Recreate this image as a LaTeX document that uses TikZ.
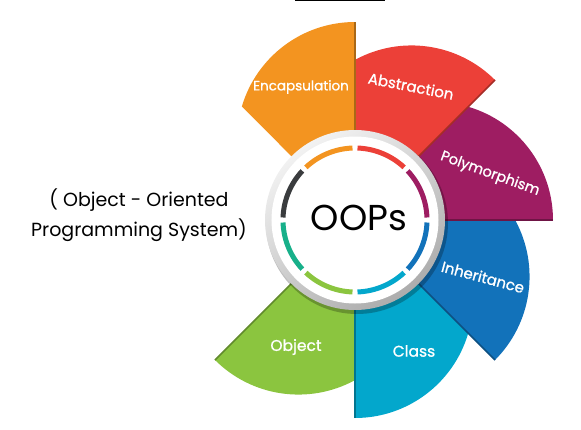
\documentclass[tikz,border=0pt]{standalone}
\usepackage{fontspec}
\setmainfont{Poppins}
\newfontfamily\petalfont{Poppins}[FakeBold=1]

\definecolor{encorange}{RGB}{243,148,32}
\definecolor{absred}{RGB}{236,64,56}
\definecolor{polypurple}{RGB}{158,29,98}
\definecolor{inhblue}{RGB}{18,114,186}
\definecolor{clscyan}{RGB}{3,167,204}
\definecolor{objgreen}{RGB}{139,197,63}
\definecolor{ringteal}{RGB}{24,176,138}
\definecolor{ringdark}{RGB}{58,60,62}

\tikzset{
  petaledge/.style={draw=#1!70!black, line width=1.6pt},
  petallabel/.style={text=white, inner sep=0pt,
    font=\petalfont\fontsize{#1}{16}\selectfont},
  petallabel/.default=13.5,
  ringarc/.style={draw=#1, line width=5pt},
}

\begin{document}
\begin{tikzpicture}[x=1pt,y=1pt]
\useasboundingbox (-355,-209) rectangle (226,220);
\fill[black] (-60,218.8) rectangle (30,220);

\fill[encorange] (0,0) -- (90:198) arc[start angle=90, end angle=163.5, radius=118pt] -- cycle;
\fill[absred] (0,0) -- (45:198) arc[start angle=45, end angle=118.5, radius=118pt] -- cycle;
\fill[polypurple] (0,0) -- (0:198) arc[start angle=0, end angle=73.5, radius=118pt] -- cycle;
\fill[inhblue] (0,0) -- (-45:198) arc[start angle=-45, end angle=28.5, radius=118pt] -- cycle;
\fill[clscyan] (0,0) -- (-90:198) arc[start angle=-90, end angle=-16.5, radius=118pt] -- cycle;
\fill[objgreen] (0,0) -- (-135:198) arc[start angle=-135, end angle=-61.5, radius=118pt] -- cycle;

\draw[petaledge=encorange] (90:80) -- (90:198);
\draw[petaledge=absred] (45:80) -- (45:198);
\draw[petaledge=polypurple] (0:80) -- (0:198);
\draw[petaledge=inhblue] (-45:80) -- (-45:198);
\draw[petaledge=clscyan] (-90:80) -- (-90:198);
\draw[petaledge=objgreen] (-135:80) -- (-135:198);

% ring
\fill[black, opacity=0.25] (2,-3) circle[radius=91pt];
\shade[top color=gray!10, bottom color=gray!65, shading angle=35] (0,0) circle[radius=90pt];
\fill[white] (0,0) circle[radius=83.5pt];

\draw[ringarc=absred] (88:72) arc[start angle=88, end angle=47, radius=72pt];
\draw[ringarc=polypurple] (43:72) arc[start angle=43, end angle=2, radius=72pt];
\draw[ringarc=inhblue] (-2:72) arc[start angle=-2, end angle=-43, radius=72pt];
\draw[ringarc=clscyan] (-47:72) arc[start angle=-47, end angle=-88, radius=72pt];
\draw[ringarc=objgreen] (-92:72) arc[start angle=-92, end angle=-133, radius=72pt];
\draw[ringarc=ringteal] (-137:72) arc[start angle=-137, end angle=-178, radius=72pt];
\draw[ringarc=ringdark] (178:72) arc[start angle=178, end angle=137, radius=72pt];
\draw[ringarc=encorange] (133:72) arc[start angle=133, end angle=92, radius=72pt];

\node[font=\fontsize{36}{40}\selectfont] (oops) at (4,2) {OOPs};

\node[petallabel] (encap) at (-54,133) {Encapsulation};
\node[petallabel=15, rotate=-11] (abstr) at (56,134) {Abstraction};
\node[petallabel=14.5, rotate=-20] (poly) at (135,46) {Polymorphism};
\node[petallabel=15, rotate=-15] (inher) at (128,-57) {Inheritance};
\node[petallabel=15.5] (class) at (59,-131) {Class};
\node[petallabel=15.5] (object) at (-59,-127) {Object};

\node[align=center, font=\fontsize{19}{30}\selectfont] (system) at (-216,5)
  {( Object - Oriented\\Programming System)};
\end{tikzpicture}
\end{document}
